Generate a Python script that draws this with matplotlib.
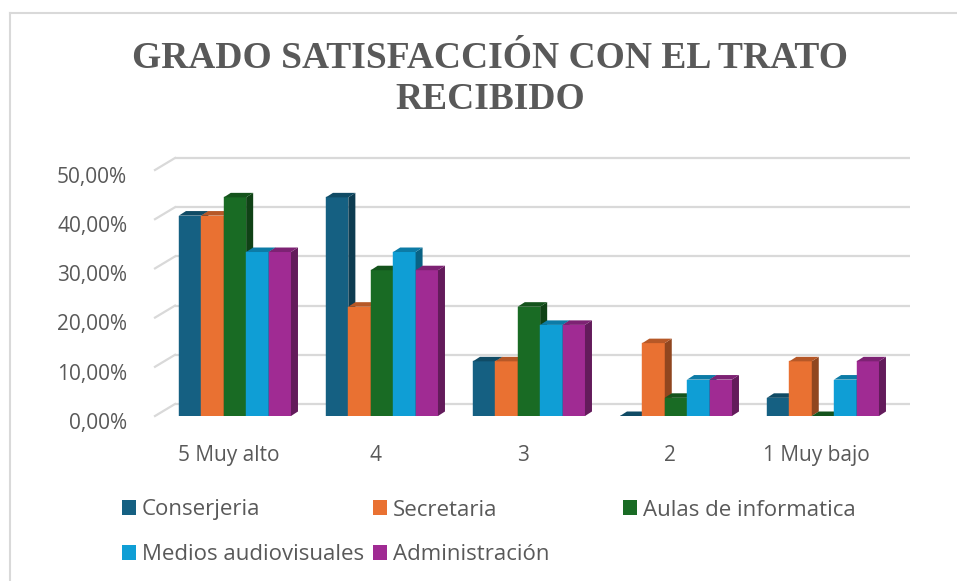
import matplotlib
matplotlib.use('Agg')
import matplotlib.pyplot as plt
from matplotlib.patches import Polygon
from matplotlib.lines import Line2D
import matplotlib.colors as mcolors
import matplotlib.transforms as mtransforms
import numpy as np

# ---------------- data ----------------
categories = ['5 Muy alto', '4', '3', '2', '1 Muy bajo']
series_names = ['Conserjeria', 'Secretaria', 'Aulas de informatica',
                'Medios audiovisuales', 'Administración']
conserjeria = [0.4074, 0.4444, 0.1111, 0.0000, 0.0370]
secretaria = [0.4074, 0.2222, 0.1111, 0.1481, 0.1111]
aulas_informatica = [0.4444, 0.2963, 0.2222, 0.0370, 0.0000]
medios_audiovisuales = [0.3333, 0.3333, 0.1852, 0.0741, 0.0741]
administracion = [0.3333, 0.2963, 0.1852, 0.0741, 0.1111]
ytick_values = [0.0, 0.1, 0.2, 0.3, 0.4, 0.5]
ytick_labels = ['0,00%', '10,00%', '20,00%', '30,00%', '40,00%', '50,00%']
title = 'GRADO SATISFACCIÓN CON EL TRATO\nRECIBIDO'

series_values = [conserjeria, secretaria, aulas_informatica,
                 medios_audiovisuales, administracion]
colors = ['#156082', '#E97132', '#196B24', '#0F9ED5', '#A02B93']

# ---------------- layout ----------------
W, H = 957, 581
fig = plt.figure(figsize=(W / 100, H / 100), dpi=100)
fig.patch.set_facecolor('white')

TXT = '#595959'
SANS = ['Open Sans', 'DejaVu Sans']

ax_left, ax_right, ax_top, ax_bottom = 155, 890, 170, 416
ax = fig.add_axes([ax_left / W, 1 - ax_bottom / H,
                   (ax_right - ax_left) / W, (ax_bottom - ax_top) / H])
ax.set_xlim(-0.5, len(categories) - 0.5)
ax.set_ylim(0, 0.5)
for s in ax.spines.values():
    s.set_visible(False)
ax.patch.set_alpha(0)

cat_px = (ax_right - ax_left) / len(categories)
val_px = (ax_bottom - ax_top) / 0.5
# depth of the back wall and of the bars (pixels -> data units)
wall_dx, wall_dy = 20 / cat_px, 12 / val_px
bar_dx, bar_dy = 7 / cat_px, 4.5 / val_px

# back wall gridlines and side-wall diagonals
grid_c = '#d9d9d9'
for v in ytick_values:
    ax.plot([-0.5 + wall_dx, len(categories) - 0.5 + wall_dx],
            [v + wall_dy, v + wall_dy], color=grid_c, lw=1.6,
            clip_on=False, zorder=1, solid_capstyle='butt')
    ax.plot([-0.5, -0.5 + wall_dx], [v, v + wall_dy], color=grid_c,
            lw=1.6, clip_on=False, zorder=1)

# bars
n = len(series_values)
group_w = 0.762
bw = group_w / n
group_shift = 0.044
x = np.arange(len(categories))


def shade(c, f):
    r, g, b = mcolors.to_rgb(c)
    return (r * f, g * f, b * f)


for j, (vals, col) in enumerate(zip(series_values, colors)):
    pos = x + group_shift + (j - (n - 1) / 2) * bw
    z = 2 + j * 0.1
    bars = ax.bar(pos, vals, width=bw, color=col, zorder=z,
                  edgecolor=col, linewidth=0.3)
    for b in bars:
        x0 = b.get_x()
        x1 = x0 + b.get_width()
        h = b.get_height()
        side = Polygon([(x1, 0), (x1, h), (x1 + bar_dx, h + bar_dy),
                        (x1 + bar_dx, bar_dy)], closed=True,
                       facecolor=shade(col, 0.62), edgecolor='none',
                       zorder=z + 0.05)
        top = Polygon([(x0, h), (x0 + bar_dx, h + bar_dy),
                       (x1 + bar_dx, h + bar_dy), (x1, h)], closed=True,
                      facecolor=shade(col, 0.78), edgecolor='none',
                      zorder=z + 0.06)
        ax.add_patch(side)
        ax.add_patch(top)

# ticks
ax.set_yticks(ytick_values, ytick_labels)
ax.set_xticks(x, categories)
ax.tick_params(axis='y', length=0, pad=20, labelsize=15, labelcolor=TXT)
ax.tick_params(axis='x', length=0, pad=21, labelsize=15, labelcolor=TXT)
down = mtransforms.ScaledTranslation(0, -3.5 / 72, fig.dpi_scale_trans)
for lab in ax.get_yticklabels():
    lab.set_family(SANS)
    lab.set_transform(lab.get_transform() + down)
for lab in ax.get_xticklabels():
    lab.set_family(SANS)

# title
fig.text(490 / W, 1 - 79 / H, title, ha='center', va='center',
         fontsize=27, fontweight='bold', color=TXT,
         family=['Liberation Serif', 'DejaVu Serif'], linespacing=1.22)

# legend: equal-width columns, row-major like the original
leg_x = [122, 373, 623]
leg_y = [510, 555]
for k, (name, col) in enumerate(zip(series_names, colors)):
    r, c = divmod(k, 3)
    h = plt.Rectangle((0, 0), 1, 1, facecolor=col, edgecolor='none')
    lg = fig.legend([h], [name], loc='center left',
                    bbox_to_anchor=(leg_x[c] / W, 1 - leg_y[r] / H),
                    frameon=False, handlelength=0.62, handleheight=0.62,
                    handletextpad=0.28, borderpad=0, borderaxespad=0,
                    prop={'family': SANS, 'size': 16})
    for t in lg.get_texts():
        t.set_color(TXT)

# chart frame (top and left edges visible)
fig.add_artist(Line2D([10 / W, 1], [1 - 13 / H, 1 - 13 / H],
                      transform=fig.transFigure, color='#d9d9d9', lw=1.5))
fig.add_artist(Line2D([10 / W, 10 / W], [0, 1 - 13 / H],
                      transform=fig.transFigure, color='#d9d9d9', lw=1.5))

fig.savefig('out.png', dpi=100, facecolor='white')
